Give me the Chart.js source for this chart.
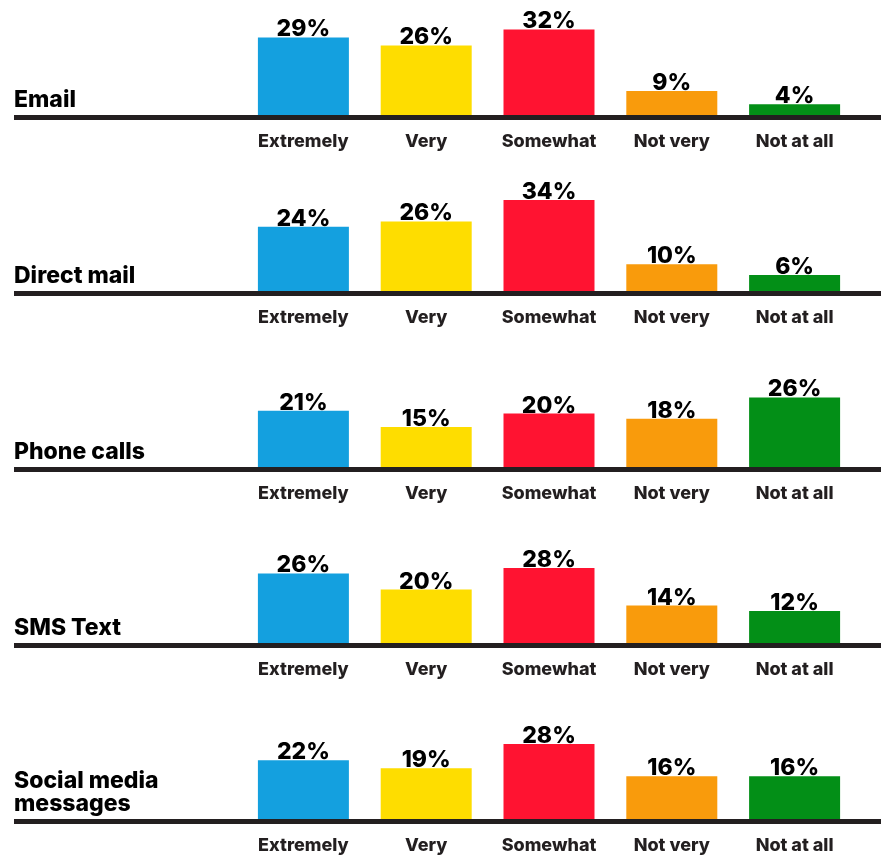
<!DOCTYPE html>
<html>
<head>
<meta charset="utf-8">
<script src="https://cdn.jsdelivr.net/npm/chart.js@4.4.1/dist/chart.umd.min.js"></script>
<style>
  body { margin: 0; background: #fff; }
  #wrap { position: relative; width: 881px; height: 855px; overflow: hidden; }
  #wrap canvas { position: absolute; left: 0; }
</style>
</head>
<body>
<div id="wrap"></div>
<script>
const channels = ["Email", "Direct mail", "Phone calls", "SMS Text", ["Social media", "messages"]];
const levels = ["Extremely", "Very", "Somewhat", "Not very", "Not at all"];

const emailValues = [29, 26, 32, 9, 4];
const directMailValues = [24, 26, 34, 10, 6];
const phoneValues = [21, 15, 20, 18, 26];
const smsValues = [26, 20, 28, 14, 12];
const socialValues = [22, 19, 28, 16, 16];

const barColors = ["#14a0df", "#fedd00", "#ff1331", "#f99b0c", "#038f17"];

const rows = [emailValues, directMailValues, phoneValues, smsValues, socialValues];

const FONT = "Inter, 'Open Sans', sans-serif";
const INK = "#231f20";

// thick rule under the bars, from the row title all the way to the right edge
const baseline = {
  id: "baseline",
  afterDatasetsDraw(chart) {
    const ctx = chart.ctx;
    const b = chart.chartArea.bottom;
    ctx.save();
    ctx.fillStyle = INK;
    ctx.fillRect(14, b, chart.width - 14, 5);
    ctx.restore();
  }
};

// percentage on top of each bar
const valueLabels = {
  id: "valueLabels",
  afterDatasetsDraw(chart) {
    const ctx = chart.ctx;
    const meta = chart.getDatasetMeta(0);
    const vals = chart.data.datasets[0].data;
    ctx.save();
    ctx.font = "800 23px " + FONT;
    ctx.fillStyle = "#000";
    ctx.textAlign = "center";
    ctx.textBaseline = "alphabetic";
    meta.data.forEach((bar, i) => {
      ctx.fillText(vals[i] + "%", bar.x, bar.y - 1);
    });
    ctx.restore();
  }
};

// channel name at the left end of the rule
const rowTitle = {
  id: "rowTitle",
  afterDraw(chart, args, opts) {
    const ctx = chart.ctx;
    const lines = [].concat(opts.text);
    const b = chart.chartArea.bottom;
    ctx.save();
    ctx.font = "800 23px " + FONT;
    ctx.fillStyle = "#000";
    ctx.textAlign = "left";
    ctx.textBaseline = "alphabetic";
    lines.forEach((t, i) => {
      ctx.fillText(t, 14, b - 8 - (lines.length - 1 - i) * 23);
    });
    ctx.restore();
  }
};

const wrap = document.getElementById("wrap");

rows.forEach((values, r) => {
  const canvas = document.createElement("canvas");
  canvas.width = 881;
  canvas.height = 176;
  canvas.style.top = (176 * r) + "px";
  wrap.appendChild(canvas);

  new Chart(canvas.getContext("2d"), {
    type: "bar",
    data: {
      labels: levels,
      datasets: [{
        data: values,
        backgroundColor: barColors,
        borderWidth: 0,
        barPercentage: 0.741,
        categoryPercentage: 1
      }]
    },
    options: {
      responsive: false,
      animation: false,
      layout: { padding: { left: 242, right: 25, top: 8, bottom: 0 } },
      plugins: {
        legend: { display: false },
        tooltip: { enabled: false },
        rowTitle: { text: channels[r] }
      },
      scales: {
        x: {
          grid: { display: false, drawTicks: false },
          border: { display: false },
          ticks: {
            padding: 16,
            color: INK,
            font: { family: FONT, size: 18, weight: "800" }
          },
          afterFit(scale) { scale.height = 61; }
        },
        y: {
          display: false,
          min: 0,
          max: 40
        }
      }
    },
    plugins: [baseline, valueLabels, rowTitle]
  });
});
</script>
</body>
</html>
